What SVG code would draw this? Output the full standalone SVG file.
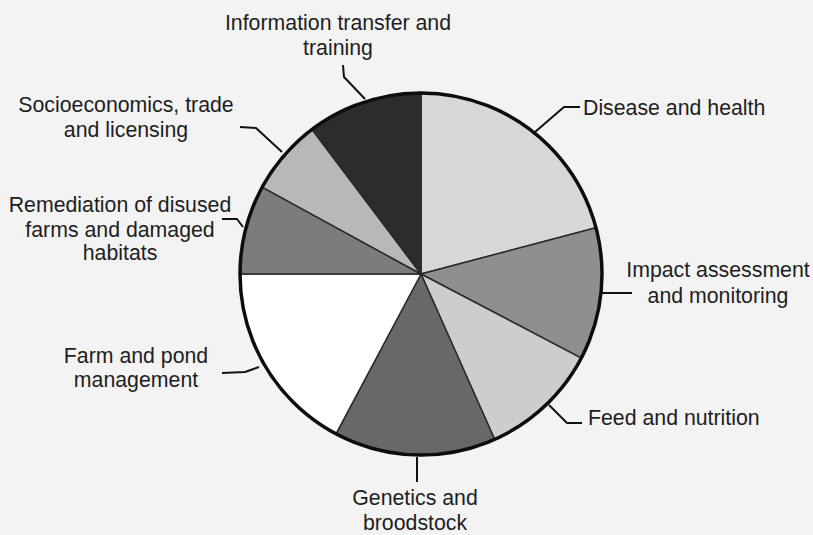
<svg xmlns="http://www.w3.org/2000/svg" width="813" height="535" viewBox="0 0 813 535">
<style>
.lbl{font-family:"Liberation Sans",Arial,Helvetica,sans-serif;font-size:21.3px;fill:#1e1e1e;text-anchor:middle}
.lft{text-anchor:start}
.slice{stroke:#2a2a2a;stroke-width:1.5;stroke-linejoin:round}
.lead{fill:none;stroke:#111;stroke-width:2;stroke-linejoin:round}
</style>
<rect x="0" y="0" width="813" height="535" fill="#f3f3f3"/>
<g id="disease">
<path class="slice" d="M421,274 L421,93 A181,181 0 0 1 596,227.8 Z" fill="#d7d7d7"/>
<text class="lbl lft" x="583" y="115">Disease and health</text>
</g>
<g id="impact">
<path class="slice" d="M421,274 L596,227.8 A181,181 0 0 1 581.3,358.1 Z" fill="#8f8f8f"/>
<text class="lbl" x="718" y="277">Impact assessment</text>
<text class="lbl" x="718" y="303">and monitoring</text>
</g>
<g id="feed">
<path class="slice" d="M421,274 L581.3,358.1 A181,181 0 0 1 494.6,439.3 Z" fill="#cdcdcd"/>
<text class="lbl lft" x="588" y="425">Feed and nutrition</text>
</g>
<g id="genetics">
<path class="slice" d="M421,274 L494.6,439.3 A181,181 0 0 1 336,433.8 Z" fill="#686868"/>
<text class="lbl" x="415" y="505">Genetics and</text>
<text class="lbl" x="415" y="530">broodstock</text>
</g>
<g id="farm">
<path class="slice" d="M421,274 L336,433.8 A181,181 0 0 1 240,274 Z" fill="#ffffff"/>
<text class="lbl" x="136" y="363">Farm and pond</text>
<text class="lbl" x="136" y="387">management</text>
</g>
<g id="remediation">
<path class="slice" d="M421,274 L240,274 A181,181 0 0 1 262.2,187.1 Z" fill="#7c7c7c"/>
<text class="lbl" x="120" y="212">Remediation of disused</text>
<text class="lbl" x="120" y="237">farms and damaged</text>
<text class="lbl" x="120" y="260">habitats</text>
</g>
<g id="socioeconomics">
<path class="slice" d="M421,274 L262.2,187.1 A181,181 0 0 1 312.1,129.5 Z" fill="#b8b8b8"/>
<text class="lbl" x="126" y="112">Socioeconomics, trade</text>
<text class="lbl" x="126" y="137">and licensing</text>
</g>
<g id="information">
<path class="slice" d="M421,274 L312.1,129.5 A181,181 0 0 1 421,93 Z" fill="#2c2c2c"/>
<text class="lbl" x="338" y="30">Information transfer and</text>
<text class="lbl" x="338" y="55">training</text>
</g>
<circle cx="421" cy="274" r="181" fill="none" stroke="#0d0d0d" stroke-width="3.5"/>
<g id="connectors">
<polyline class="lead" points="580,107 564,107 535,132"/>
<polyline class="lead" points="602,293 632,293"/>
<polyline class="lead" points="582,423 567,423 549,405"/>
<polyline class="lead" points="417,457 417,482"/>
<polyline class="lead" points="222,373 245,372 259,367"/>
<polyline class="lead" points="222,219 237,219 243,227"/>
<polyline class="lead" points="240,127 256,128 282,152"/>
<polyline class="lead" points="343,65 344,77 365,99"/>
</g>
</svg>
